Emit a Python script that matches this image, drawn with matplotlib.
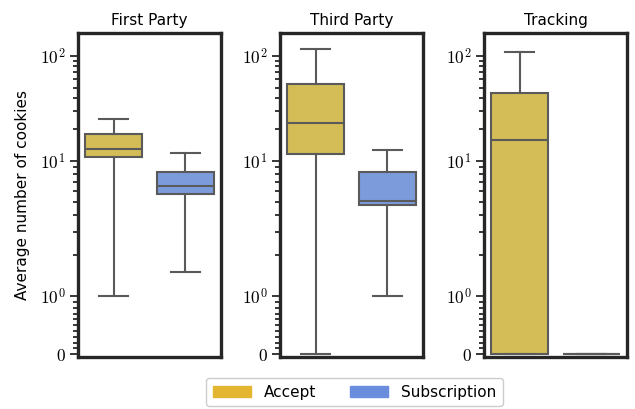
import numpy as np
import matplotlib
matplotlib.use("Agg")
import matplotlib.pyplot as plt
from matplotlib.patches import Patch

# ---- data: box statistics per panel (whisker low, Q1, median, Q3, whisker high)
panels = ["First Party", "Third Party", "Tracking"]
groups = ["Accept", "Subscription"]

accept_stats = [
    [1.0, 10.9, 13.0, 18.1, 25.0],     # First Party
    [0.0, 11.7, 23.0, 54.0, 117.0],    # Third Party
    [0.0, 0.0, 15.9, 44.5, 109.0],     # Tracking
]
subscription_stats = [
    [1.5, 5.7, 6.5, 8.3, 11.9],
    [1.0, 4.7, 5.1, 8.3, 12.7],
    [0.0, 0.0, 0.0, 0.0, 0.0],
]

legend_colors = ["#E3B530", "#6A8DDD"]
box_colors = ["#D4BC56", "#7B9BDB"]
line_color = "#5A5A5A"

ytick_values = [0, 1, 10, 100]
ytick_labels = ["$0$", "$10^0$", "$10^1$", "$10^2$"]

# ---- a log-like y scale: linear 0..1, then two decades of unequal length
LIN, D1, D2 = 0.58, 1.35, 1.05


def fwd(v):
    v = np.asarray(v, dtype=float)
    lv = np.log10(np.maximum(v, 1.0))
    return np.where(v < 1, LIN * v,
                    LIN + np.where(lv < 1, D1 * lv, D1 + D2 * (lv - 1)))


def inv(u):
    u = np.asarray(u, dtype=float)
    a = np.clip((u - LIN) / D1, 0, 1)
    b = np.clip((u - LIN - D1) / D2, 0, 10)
    return np.where(u < LIN, u / LIN, 10 ** (a + b))


minor = list(np.arange(1, 10) / 10) + list(range(2, 10)) + list(range(20, 100, 10))

plt.rcParams["mathtext.fontset"] = "cm"
plt.rcParams["font.family"] = ["DejaVu Sans"]

fig = plt.figure(figsize=(6.35, 4.09), dpi=100)
W, H = 635, 409
lefts = [78, 280, 484]
ax_w = 143
top, bottom = 33, 357

for i, name in enumerate(panels):
    ax = fig.add_axes([lefts[i] / W, 1 - bottom / H, ax_w / W, (bottom - top) / H])
    stats = []
    for st in (accept_stats[i], subscription_stats[i]):
        lo, q1, med, q3, hi = st
        stats.append(dict(whislo=lo, q1=q1, med=med, q3=q3, whishi=hi, fliers=[]))
    lp = dict(color=line_color, linewidth=1.5)
    art = ax.bxp(stats, positions=[0, 1], widths=0.8, patch_artist=True,
                 showfliers=False, boxprops=dict(edgecolor=line_color, linewidth=1.5),
                 medianprops=lp, whiskerprops=lp, capprops=lp)
    for patch, c in zip(art["boxes"], box_colors):
        patch.set_facecolor(c)

    ax.set_yscale("function", functions=(fwd, inv))
    ax.set_ylim(-0.05, 166)
    ax.set_xlim(-0.5, 1.5)
    ax.set_yticks(ytick_values, ytick_labels)
    ax.set_yticks(minor, minor=True)
    ax.yaxis.set_minor_formatter(matplotlib.ticker.NullFormatter())
    ax.set_xticks([])
    ax.tick_params(axis="y", which="major", length=6, width=1.3,
                   color="#262626", labelsize=12.5, pad=3)
    ax.tick_params(axis="y", which="minor", length=3.5, width=1.3, color="#262626")
    for sp in ax.spines.values():
        sp.set_linewidth(2.4)
        sp.set_color("#262626")
    ax.set_title(name, fontsize=11, pad=6)
    if i == 0:
        ax.set_ylabel("Average number of cookies", fontsize=11, labelpad=7)

handles = [Patch(facecolor=c, edgecolor=c, label=g) for c, g in zip(legend_colors, groups)]
fig.legend(handles=handles, loc="upper center", bbox_to_anchor=(0.558, 1 - 370 / H),
           ncol=2, fontsize=11, frameon=True, fancybox=True, framealpha=1,
           edgecolor="#cccccc", handlelength=2.5, handletextpad=0.85,
           columnspacing=2.2, borderpad=0.45)

fig.savefig("out.png", dpi=100)
